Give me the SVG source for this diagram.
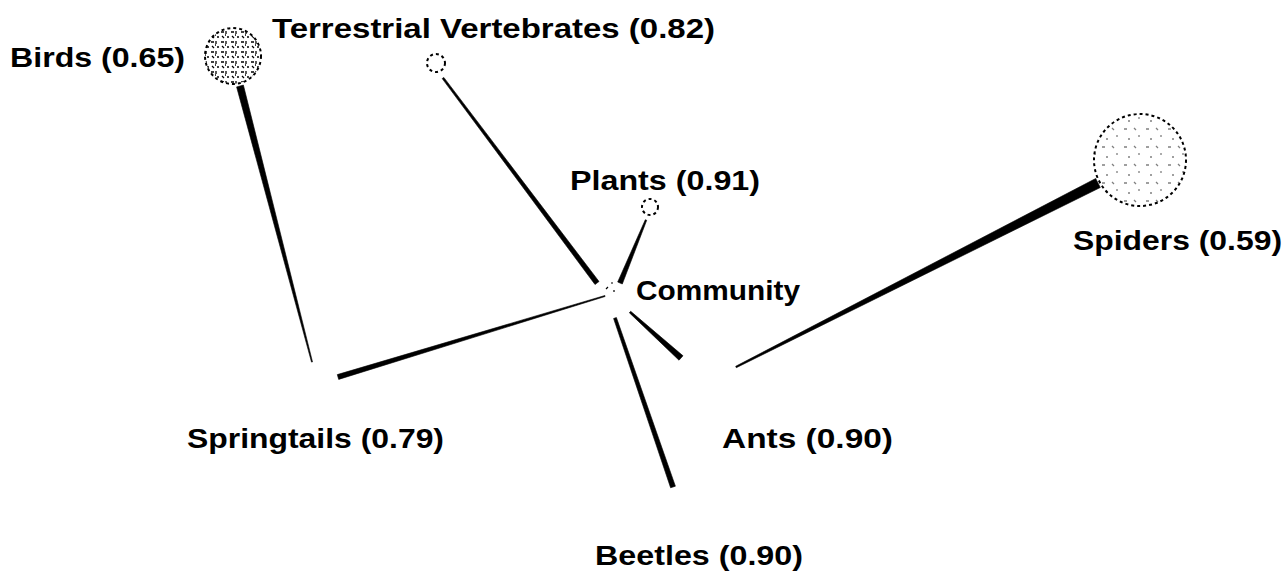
<svg xmlns="http://www.w3.org/2000/svg" width="1286" height="572" viewBox="0 0 1286 572">
<style>
.lbl{font-family:"Liberation Sans",Arial,sans-serif;font-weight:bold;font-size:27px;fill:#000}
.edge{fill:#000;stroke:#000;stroke-width:0.6;stroke-linejoin:round}
.ring{fill:none;stroke:#000;stroke-width:2;stroke-dasharray:3 3}
</style>
<defs>
<pattern id="speck" width="10" height="10" patternUnits="userSpaceOnUse">
<path d="M1 2h3M6 1v3M2 6l2 2M7 7h2M5 5h1" stroke="#000" stroke-width="1.3" fill="none"/>
</pattern>
<pattern id="speck2" width="22" height="18" patternUnits="userSpaceOnUse">
<path d="M2 3h3M12 2l2 2M17 9v2M6 13h2" stroke="#000" stroke-width="1.3" fill="none"/>
</pattern>
</defs>
<g id="connectors">
<polygon class="edge" points="236.6,86.9 243.4,85.1 312.5,361.9 311.5,362.1"/>
<polygon class="edge" points="442.2,78.6 443.8,77.4 599.0,281.5 595.0,284.5"/>
<polygon class="edge" points="645.3,219.7 646.7,220.3 622.3,284.0 617.7,282.0"/>
<polygon class="edge" points="337.3,374.6 604.9,295.5 605.1,296.5 338.7,379.4"/>
<polygon class="edge" points="629.3,312.7 630.7,311.3 683.0,355.8 679.0,360.2"/>
<polygon class="edge" points="613.6,318.5 616.4,317.5 675.4,486.2 670.6,487.8"/>
<polygon class="edge" points="735.7,366.3 1095.7,178.5 1100.3,187.5 736.3,367.7"/>
</g>
<g id="birds">
<circle cx="233" cy="56" r="28" fill="url(#speck)"/>
<circle class="ring" cx="233" cy="56" r="28"/>
<text class="lbl" x="10" y="67" textLength="175" lengthAdjust="spacingAndGlyphs">Birds (0.65)</text>
</g>
<g id="terrestrial-vertebrates">
<circle class="ring" cx="436" cy="63" r="9" stroke-dasharray="2 1.5"/>
<text class="lbl" x="272" y="38" textLength="443" lengthAdjust="spacingAndGlyphs">Terrestrial Vertebrates (0.82)</text>
</g>
<g id="plants">
<circle class="ring" cx="650" cy="207" r="8" stroke-dasharray="2 2.5" stroke-width="1.5"/>
<text class="lbl" x="570" y="190" textLength="190" lengthAdjust="spacingAndGlyphs">Plants (0.91)</text>
</g>
<g id="community">
<path d="M606 289l2 -2M614 290v2M611 283h2" stroke="#000" stroke-width="1.2"/>
<text class="lbl" x="636" y="300" textLength="164" lengthAdjust="spacingAndGlyphs">Community</text>
</g>
<g id="spiders">
<circle cx="1140" cy="160" r="46" fill="url(#speck2)" opacity="0.5"/>
<circle class="ring" cx="1140" cy="160" r="46" stroke-width="1.5" stroke-dasharray="3 6"/>
<text class="lbl" x="1073" y="250" textLength="209" lengthAdjust="spacingAndGlyphs">Spiders (0.59)</text>
</g>
<g id="springtails">
<text class="lbl" x="187" y="448" textLength="257" lengthAdjust="spacingAndGlyphs">Springtails (0.79)</text>
</g>
<g id="ants">
<text class="lbl" x="722" y="448" textLength="171" lengthAdjust="spacingAndGlyphs">Ants (0.90)</text>
</g>
<g id="beetles">
<text class="lbl" x="595" y="565" textLength="208" lengthAdjust="spacingAndGlyphs">Beetles (0.90)</text>
</g>
</svg>
